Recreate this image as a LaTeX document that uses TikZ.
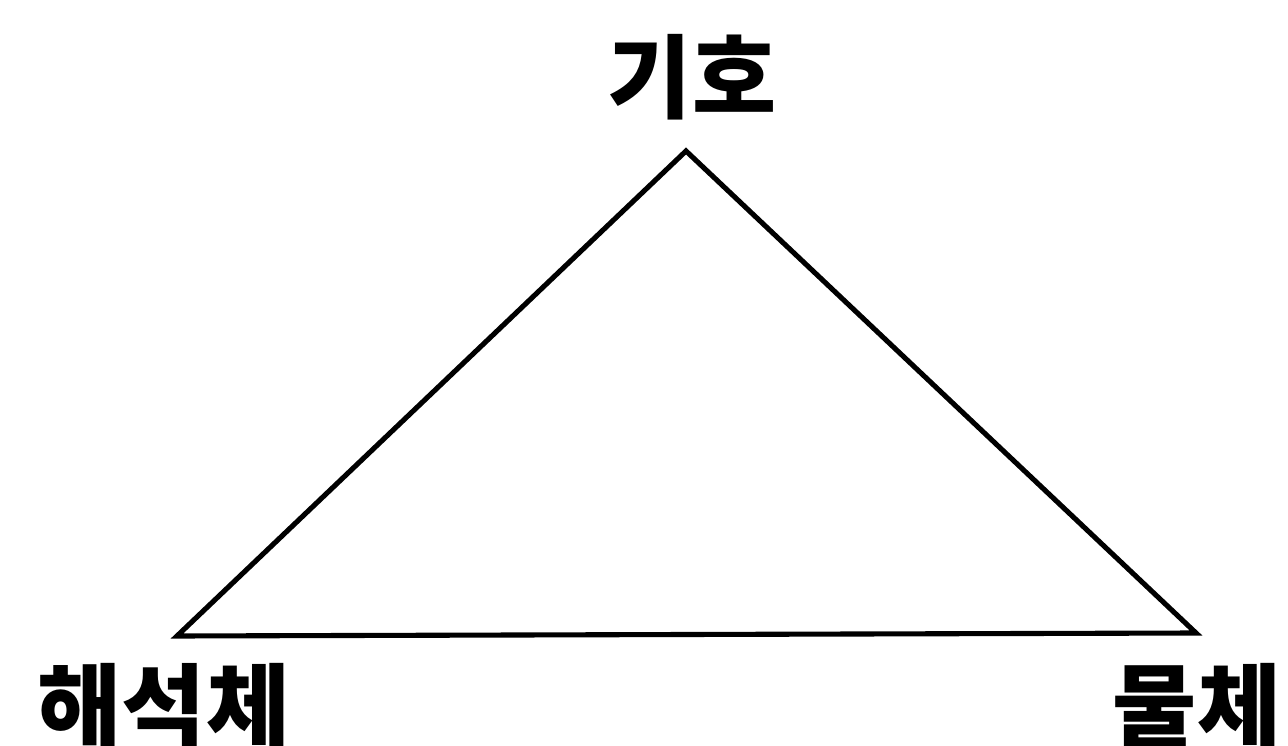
\documentclass[tikz,border=0pt]{standalone}
\usepackage{fontspec}
\newfontfamily\krfont{Noto Sans CJK KR}
\tikzset{
  lbl/.style={font=\krfont\bfseries\fontsize{26pt}{26pt}\selectfont, inner sep=0pt, anchor=base},
  edge/.style={line width=1.45pt, line join=miter}
}
\begin{document}
\begin{tikzpicture}[x=0.01cm,y=-0.01cm]
\useasboundingbox (0,0) rectangle (1288,746);
\clip (0,0) rectangle (1288,746);
\fill[white] (0,0) rectangle (1288,746);
\coordinate (top) at (686,151);
\coordinate (bl) at (177,636);
\coordinate (br) at (1196,633);
\draw[edge] (top) -- (bl) -- (br) -- cycle;
\node[lbl] (sign) at (692,112) {기호};
\node[lbl] (interp) at (164,740) {해석체};
\node[lbl] (obj) at (1197,740) {물체};
\end{tikzpicture}
\end{document}
